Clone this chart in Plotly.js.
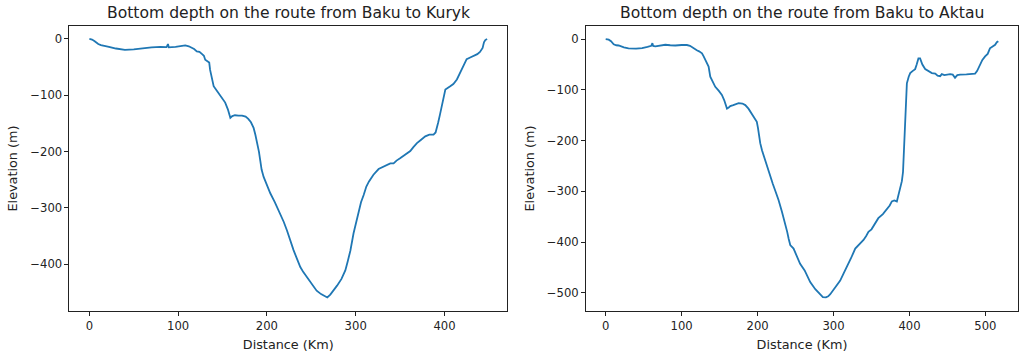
<!DOCTYPE html>
<html>
<head>
<meta charset="utf-8">
<script src="https://cdn.plot.ly/plotly-3.0.1.min.js"></script>
<style>
  html, body { margin: 0; padding: 0; background: #fff; }
  #chart { width: 1019px; height: 354px; }
</style>
</head>
<body>
<div id="chart"></div>
<script>
// Bottom profile along the Baku – Kuryk route
const kurykDistance = [0, 3, 6, 10, 13, 17, 22, 30, 40, 50, 59, 70, 80, 87, 88.5, 89.5, 97, 103, 108, 112,
  115, 118, 121, 124, 127, 129, 130.5, 133, 135, 136, 138, 140, 144, 149, 153, 156, 158.8, 161, 164, 168,
  172, 176, 179, 182, 185, 187, 189, 191, 192.6, 194, 196.3, 200, 203.8, 209, 215, 219, 222.6, 226, 230, 234,
  237.6, 241, 245, 250, 256, 261, 265.8, 268, 271.4, 275, 279, 284, 288.3, 291, 294, 297.6, 300, 303, 306, 309,
  312, 315, 320, 325.8, 330, 335, 339, 342.7, 346, 350, 355, 361.5, 365, 369, 373, 378.4, 383, 387.7, 390, 391.6,
  393, 395, 398, 401, 406.5, 410, 414, 417, 419.7, 422, 425, 429, 432.8, 437, 440, 443, 444.5, 446, 448];
const kurykDepth = [0, -1, -4, -9, -11, -12, -14, -17, -19.5, -18.5, -16.5, -15, -14, -14.5, -9, -15, -14, -12.5, -11.5, -13,
  -15, -18, -22, -23, -27, -30, -37, -39, -42, -55, -70, -84, -93, -104, -113, -125, -140, -137, -135.5, -136,
  -136, -138, -142, -148, -158, -170, -183, -200, -217, -232, -245, -260, -274, -290, -310, -325, -340, -357, -375, -391,
  -405, -414, -423, -434, -447, -453, -458, -459, -454, -447, -438, -426, -411, -395, -376, -345, -330, -307, -290, -277,
  -262, -253, -241, -231, -228, -223.5, -221, -221, -216, -212, -206, -199, -192, -185, -180, -173, -170, -170, -166, -158,
  -148, -134, -110, -90, -84, -80, -72, -62, -51, -43, -36, -33, -30, -27, -23, -16, -6, -2, 0];

// Bottom profile along the Baku – Aktau route
const aktauDistance = [0, 4, 7, 10.5, 14, 17, 24, 30, 40, 48, 55, 60, 61.5, 62.5, 65.4, 72, 78.5, 85, 91.7, 100,
  107, 111, 113.7, 117, 120, 123, 126.8, 129, 131, 133, 135.5, 137.7, 141, 144.3, 149, 153, 156, 159.7, 162, 164,
  168, 172, 175, 180, 183.8, 188, 192.6, 196, 199, 200.5, 201.5, 203.5, 205.8, 209, 212.4, 216, 220, 224, 227.6, 232,
  236.4, 239, 241, 243, 247.4, 251, 256, 262, 269.3, 276, 282.5, 286, 290, 293, 295.7, 300, 304, 308.8, 313, 317.6,
  323, 328.6, 334, 339.5, 343, 346, 350, 355, 359, 365, 370, 374, 376.8, 380, 383.4, 386, 388, 390, 391.5, 393,
  394.3, 395.5, 396.6, 399, 401, 404, 407.5, 409.5, 411.8, 414, 417, 420.7, 425, 429.5, 434, 437, 440.4, 442.6, 446, 450,
  453.6, 457, 460, 463, 466.7, 475, 486.4, 489, 493, 496, 499.6, 503, 506, 510, 512.8, 515, 517];
const aktauDepth = [0, -1, -4, -10, -12, -12.5, -16, -18, -18.5, -17.5, -15, -13, -8, -13.5, -14, -12, -11, -12, -12.5, -11.5,
  -11.5, -13, -16, -19, -22, -24, -28, -34, -41, -46, -54, -74, -85, -94, -102, -110, -120, -137, -135, -132,
  -130, -127, -126, -127, -130, -137, -147, -155, -163, -175, -188, -205, -219, -235, -248, -265, -285, -302, -317, -340,
  -363, -380, -394, -406, -413, -425, -443, -456, -479, -493, -504, -508.5, -509, -507, -503, -494, -486, -476, -463, -450,
  -432, -413, -405, -396, -388, -380, -375, -362, -353, -345, -336, -328, -320, -318, -320, -305, -293, -280, -262, -207,
  -140, -105, -87, -74, -67, -63, -59, -50, -38, -38, -50, -59, -63, -67, -68, -72, -73, -69, -71, -70,
  -69, -70, -76, -71, -70, -69.5, -68, -63, -50, -41, -34, -29, -18, -14, -11, -6, -4];

const titles = ['Bottom depth on the route from Baku to Kuryk', 'Bottom depth on the route from Baku to Aktau'];
const xLabel = 'Distance (Km)';
const yLabel = 'Elevation (m)';

const lineColor = '#1f77b4';
const font = 'DejaVu Sans, Liberation Sans, sans-serif';
const labelFont = { family: font, size: 12.8, color: '#222' };

const traces = [
  { x: kurykDistance, y: kurykDepth, xaxis: 'x', yaxis: 'y', type: 'scatter', mode: 'lines',
    line: { color: lineColor, width: 1.8 }, hoverinfo: 'x+y' },
  { x: aktauDistance, y: aktauDepth, xaxis: 'x2', yaxis: 'y2', type: 'scatter', mode: 'lines',
    line: { color: lineColor, width: 1.8 }, hoverinfo: 'x+y' }
];

function axisStyle(extra) {
  return Object.assign({
    showline: true, mirror: true, linecolor: '#222', linewidth: 1,
    ticks: 'outside', ticklen: 4, tickwidth: 1, tickcolor: '#222',
    showgrid: false, zeroline: false,
    tickfont: { family: font, size: 11.6, color: '#222' }
  }, extra);
}

const layout = {
  width: 1019, height: 354,
  margin: { l: 0, r: 0, t: 0, b: 0 },
  paper_bgcolor: '#fff', plot_bgcolor: '#fff',
  showlegend: false,
  xaxis: axisStyle({ domain: [0.0682, 0.4975], range: [-22.4, 470.4], dtick: 100, anchor: 'y',
    title: { text: xLabel, standoff: 8, font: labelFont } }),
  yaxis: axisStyle({ domain: [0.1215, 0.9266], range: [-483, 23], dtick: 100, anchor: 'x',
    title: { text: yLabel, standoff: 9, font: labelFont } }),
  xaxis2: axisStyle({ domain: [0.5751, 0.999], range: [-25.9, 542.9], dtick: 100, anchor: 'y2',
    title: { text: xLabel, standoff: 8, font: labelFont } }),
  yaxis2: axisStyle({ domain: [0.1215, 0.9266], range: [-536, 26], dtick: 100, anchor: 'x2',
    title: { text: yLabel, standoff: 9, font: labelFont } }),
  annotations: [
    { text: titles[0], xref: 'paper', yref: 'paper', x: (0.0682 + 0.4975) / 2, y: 0.9266,
      yshift: 2, xanchor: 'center', yanchor: 'bottom', showarrow: false,
      font: { family: font, size: 15.6, color: '#222' } },
    { text: titles[1], xref: 'paper', yref: 'paper', x: (0.5751 + 0.999) / 2, y: 0.9266,
      yshift: 2, xanchor: 'center', yanchor: 'bottom', showarrow: false,
      font: { family: font, size: 15.6, color: '#222' } }
  ]
};

Plotly.newPlot('chart', traces, layout, { displayModeBar: false, staticPlot: true });
</script>
</body>
</html>
